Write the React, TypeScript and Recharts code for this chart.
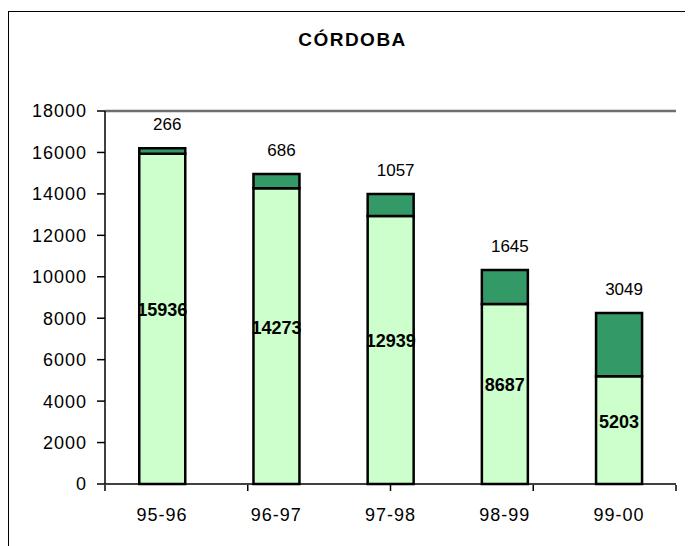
import { BarChart, Bar, XAxis, YAxis, LabelList, ReferenceLine } from "recharts";

const seasons = ["95-96", "96-97", "97-98", "98-99", "99-00"];
const baseValues = [15936, 14273, 12939, 8687, 5203];
const topValues = [266, 686, 1057, 1645, 3049];
const yTicks = [0, 2000, 4000, 6000, 8000, 10000, 12000, 14000, 16000, 18000];
const boundaryTicks = [0, 1, 2, 3, 4, 5];

const FONT = "'Liberation Sans', Arial, sans-serif";

const data = seasons.map((s, i) => ({
  season: s,
  base: baseValues[i],
  extra: topValues[i],
}));

const noText = () => "";

function BaseLabel(props: any) {
  const { x, y, width, height, value } = props;
  return (
    <text
      x={x + width / 2}
      y={y + height / 2 - 2.5}
      textAnchor="middle"
      fontSize={18}
      fontWeight="bold"
      fill="#000"
      fontFamily={FONT}
    >
      {value}
    </text>
  );
}

function TopLabel(props: any) {
  const { x, y, width, value } = props;
  return (
    <text
      x={x + width / 2 + 5}
      y={y - 18}
      textAnchor="middle"
      fontSize={17}
      fill="#000"
      fontFamily={FONT}
    >
      {value}
    </text>
  );
}

export default function App() {
  return (
    <div style={{ position: "relative", width: 685, height: 538, overflow: "hidden", fontFamily: FONT }}>
      {/* marco exterior */}
      <div
        style={{
          position: "absolute",
          left: 0,
          top: 3,
          width: 720,
          height: 600,
          border: "1px solid #000",
        }}
      />
      <div
        style={{
          position: "absolute",
          left: 0,
          width: 689,
          top: 21,
          textAlign: "center",
          fontSize: 19,
          fontWeight: "bold",
          letterSpacing: 1.5,
        }}
      >
        CÓRDOBA
      </div>
      <div style={{ position: "absolute", left: 0, top: 0 }}>
        <BarChart
          width={685}
          height={538}
          data={data}
          margin={{ top: 103, right: 17, bottom: 22, left: 0 }}
          barCategoryGap="30%"
        >
          <XAxis
            dataKey="season"
            height={1}
            tickLine={false}
            tickSize={0}
            tickMargin={24}
            axisLine={{ stroke: "#000", strokeWidth: 1.5 }}
            tick={{ fill: "#000", fontSize: 18, fontFamily: FONT, letterSpacing: 1 }}
            interval={0}
          />
          <XAxis
            xAxisId="edges"
            type="number"
            domain={[0, 5]}
            ticks={boundaryTicks}
            interval={0}
            height={39}
            tickFormatter={noText}
            axisLine={false}
            tickLine={{ stroke: "#000", strokeWidth: 1.5 }}
            tickSize={6}
            allowDataOverflow
          />
          <YAxis
            width={97}
            domain={[0, 18000]}
            ticks={yTicks}
            interval={0}
            tickSize={8}
            tickMargin={10}
            axisLine={{ stroke: "#000", strokeWidth: 1.5 }}
            tickLine={{ stroke: "#000", strokeWidth: 1.5 }}
            tick={{ fill: "#000", fontSize: 18, fontFamily: FONT, letterSpacing: 1 }}
          />
          {/* borde gris superior y derecho del área de trazado */}
          <ReferenceLine y={18000} stroke="#6e6e6e" strokeWidth={2.5} ifOverflow="extendDomain" />
          <ReferenceLine xAxisId="edges" x={5} stroke="#6e6e6e" strokeWidth={2.5} ifOverflow="extendDomain" />
          <Bar dataKey="base" stackId="a" fill="#CCFFCC" stroke="#000" strokeWidth={2.5} isAnimationActive={false}>
            <LabelList dataKey="base" content={BaseLabel} />
          </Bar>
          <Bar dataKey="extra" stackId="a" fill="#339966" stroke="#000" strokeWidth={2.5} isAnimationActive={false}>
            <LabelList dataKey="extra" content={TopLabel} />
          </Bar>
        </BarChart>
      </div>
    </div>
  );
}
